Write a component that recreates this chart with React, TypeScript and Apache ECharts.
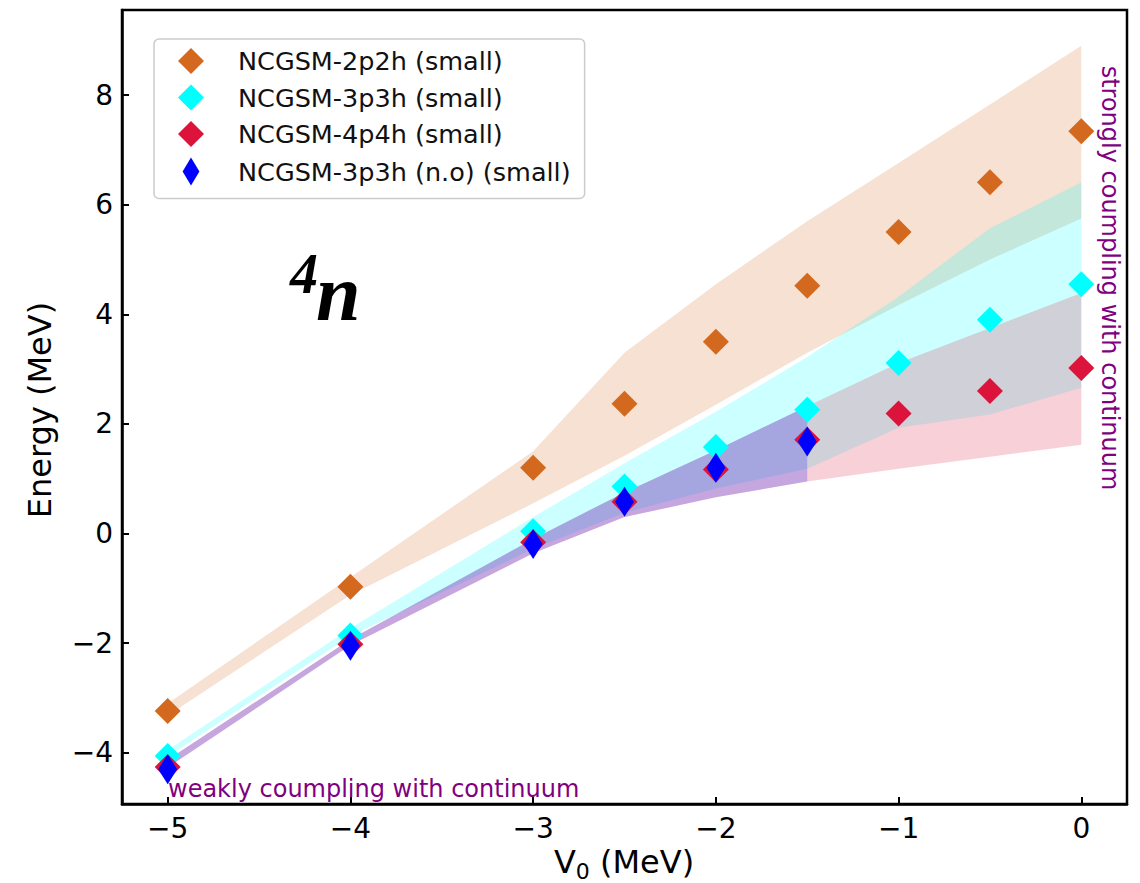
import React, { useEffect, useRef } from 'react';
import * as echarts from 'echarts';

// V0 grid (MeV)
const V0 = [-5, -4, -3, -2.5, -2, -1.5, -1, -0.5, 0];
const V0_NO = [-5, -4, -3, -2.5, -2, -1.5];

// Energies of the markers (MeV)
const E_2P2H = [-3.24, -0.97, 1.2, 2.37, 3.5, 4.52, 5.5, 6.41, 7.34];
const E_3P3H = [-4.06, -1.86, 0.04, 0.86, 1.58, 2.26, 3.11, 3.9, 4.55];
const E_4P4H = [-4.26, -2.02, -0.16, 0.58, 1.17, 1.71, 2.19, 2.6, 3.02];
const E_3P3H_NO = [-4.3, -2.05, -0.19, 0.58, 1.2, 1.68];

// Uncertainty bands (lower / upper edges)
const BAND_2P2H_HI = [-3.1, -0.8, 1.5, 3.3, 4.55, 5.7, 6.76, 7.83, 8.9];
const BAND_2P2H_LO = [-3.32, -1.12, 0.55, 1.42, 2.35, 3.3, 4.17, 5.0, 5.75];
const BAND_3P3H_HI = [-3.95, -1.73, 0.3, 1.28, 2.22, 3.22, 4.32, 5.57, 6.41];
const BAND_3P3H_LO = [-4.07, -1.87, -0.28, 0.38, 0.82, 1.18, 1.93, 2.17, 2.66];
const BAND_4P4H_HI = [-4.13, -1.93, -0.1, 0.75, 1.52, 2.32, 3.11, 3.75, 4.39];
const BAND_4P4H_LO = [-4.27, -2.04, -0.36, 0.3, 0.66, 0.95, 1.18, 1.4, 1.62];
const BAND_NO_HI = [-4.13, -1.93, -0.1, 0.75, 1.52, 2.32];
const BAND_NO_LO = [-4.27, -2.04, -0.36, 0.3, 0.66, 0.95];

const X_TICKS = [-5, -4, -3, -2, -1, 0];
const Y_TICKS = [-4, -2, 0, 2, 4, 6, 8];

const NAMES = [
  'NCGSM-2p2h (small)',
  'NCGSM-3p3h (small)',
  'NCGSM-4p4h (small)',
  'NCGSM-3p3h (n.o) (small)',
];

const FONT = 'DejaVu Sans';

const fmt = (v: number) => (v < 0 ? '\u2212' + Math.abs(v) : String(v));

function band(xs: number[], lo: number[], hi: number[], fill: string, z: number) {
  return {
    type: 'custom',
    silent: true,
    z,
    clip: false,
    data: xs.map((x, i) => [x, lo[i], hi[i]]),
    encode: { x: 0, y: [1, 2] },
    renderItem: (params: any, api: any) => {
      if (params.dataIndex !== 0) return { type: 'group', children: [] };
      const pts: number[][] = [];
      for (let i = 0; i < xs.length; i++) pts.push(api.coord([xs[i], hi[i]]));
      for (let i = xs.length - 1; i >= 0; i--) pts.push(api.coord([xs[i], lo[i]]));
      return { type: 'polygon', shape: { points: pts }, style: { fill } };
    },
  };
}

function scatter(name: string, xs: number[], ys: number[], color: string, size: any, z: number) {
  return {
    type: 'scatter',
    name,
    z,
    symbol: 'diamond',
    symbolSize: size,
    itemStyle: { color, opacity: 1 },
    data: xs.map((x, i) => [x, ys[i]]),
  };
}

export default function App() {
  const ref = useRef<HTMLDivElement>(null);
  useEffect(() => {
    if (!ref.current) return;
    const chart = echarts.init(ref.current, null, { renderer: 'svg' });
    const sqIcon = 'path://M13,0L26,13L13,26L0,13Z';
    const thinIcon = 'path://M9,0L18,15L9,30L0,15Z';
    const axisLine = { show: true, onZero: false, lineStyle: { color: '#000', width: 2.5 } };
    chart.setOption({
      animation: false,
      backgroundColor: '#fff',
      grid: {
        left: 122,
        top: 10,
        width: 1005,
        height: 794,
        show: true,
        borderColor: '#000',
        borderWidth: 2.5,
        backgroundColor: 'transparent',
      },
      xAxis: {
        type: 'value',
        min: -5.25,
        max: 0.25,
        axisLine,
        splitLine: { show: false },
        axisTick: {
          show: true,
          inside: true,
          length: 7,
          lineStyle: { color: '#000', width: 2 },
          customValues: X_TICKS,
        },
        axisLabel: {
          customValues: X_TICKS,
          formatter: fmt,
          fontSize: 28,
          fontFamily: FONT,
          color: '#000',
          margin: 10,
        },
      },
      yAxis: {
        type: 'value',
        min: -4.936,
        max: 9.553,
        axisLine,
        splitLine: { show: false },
        axisTick: {
          show: true,
          inside: true,
          length: 7,
          lineStyle: { color: '#000', width: 2 },
          customValues: Y_TICKS,
        },
        axisLabel: {
          customValues: Y_TICKS,
          formatter: fmt,
          fontSize: 28,
          fontFamily: FONT,
          color: '#000',
          margin: 9,
        },
      },
      legend: {
        left: 154,
        top: 39,
        orient: 'vertical',
        padding: [9, 14, 13, 24],
        itemGap: 10.5,
        itemWidth: 26,
        itemHeight: 28,
        borderColor: '#cccccc',
        borderWidth: 1.5,
        borderRadius: 5,
        backgroundColor: 'rgba(255,255,255,0.8)',
        selectedMode: false,
        textStyle: { fontSize: 25.5, fontFamily: FONT, color: '#111', padding: [0, 0, 0, 29] },
        data: [
          { name: NAMES[0], icon: sqIcon },
          { name: NAMES[1], icon: sqIcon },
          { name: NAMES[2], icon: sqIcon },
          { name: NAMES[3], icon: thinIcon },
        ],
      },
      series: [
        band(V0, BAND_2P2H_LO, BAND_2P2H_HI, 'rgba(210,105,30,0.2)', 1),
        band(V0, BAND_3P3H_LO, BAND_3P3H_HI, 'rgba(0,255,255,0.2)', 1),
        band(V0, BAND_4P4H_LO, BAND_4P4H_HI, 'rgba(220,20,60,0.2)', 1),
        band(V0_NO, BAND_NO_LO, BAND_NO_HI, 'rgba(0,0,255,0.2)', 1),
        scatter(NAMES[0], V0, E_2P2H, '#d2691e', 26, 5),
        scatter(NAMES[1], V0, E_3P3H, '#00ffff', 26, 5),
        scatter(NAMES[2], V0, E_4P4H, '#dc143c', 26, 5),
        scatter(NAMES[3], V0_NO, E_3P3H_NO, '#0000ff', [19, 30], 5),
      ],
      graphic: [
        {
          type: 'text',
          x: 290,
          y: 274,
          z: 10,
          style: {
            text: '4',
            fontSize: 56,
            fontFamily: 'Liberation Serif',
            fontWeight: 'bold',
            fontStyle: 'italic',
            fill: '#000',
            align: 'left',
            verticalAlign: 'middle',
          },
        },
        {
          type: 'text',
          x: 316,
          y: 293,
          z: 10,
          style: {
            text: 'n',
            fontSize: 80,
            fontFamily: 'Liberation Serif',
            fontWeight: 'bold',
            fontStyle: 'italic',
            fill: '#000',
            align: 'left',
            verticalAlign: 'middle',
          },
        },
        {
          type: 'text',
          x: 40,
          y: 410,
          rotation: Math.PI / 2,
          style: {
            text: 'Energy (MeV)',
            fontSize: 32,
            fontFamily: FONT,
            fill: '#000',
            align: 'center',
            verticalAlign: 'middle',
          },
        },
        {
          type: 'text',
          x: 624,
          y: 862,
          style: {
            text: '{a|V}{b|0}{a| (MeV)}',
            fontFamily: FONT,
            fill: '#000',
            align: 'center',
            verticalAlign: 'middle',
            rich: {
              a: { fontSize: 32, lineHeight: 40, fontFamily: FONT, fill: '#000' },
              b: { fontSize: 22, lineHeight: 22, fontFamily: FONT, fill: '#000', verticalAlign: 'bottom' },
            },
          },
        },
        {
          type: 'text',
          x: 168,
          y: 789,
          z: 10,
          style: {
            text: 'weakly coumpling with continuum',
            fontSize: 24,
            fontFamily: FONT,
            fill: '#800080',
            align: 'left',
            verticalAlign: 'middle',
          },
        },
        {
          type: 'text',
          x: 1110,
          y: 278,
          z: 10,
          rotation: -Math.PI / 2,
          style: {
            text: 'strongly coumpling with continuum',
            fontSize: 24,
            fontFamily: FONT,
            fill: '#800080',
            align: 'center',
            verticalAlign: 'middle',
          },
        },
      ],
    });
    return () => chart.dispose();
  }, []);
  return (
    <div
      ref={ref}
      style={{ position: 'absolute', left: 0, top: 0, width: 1140, height: 883, background: '#fff' }}
    />
  );
}
